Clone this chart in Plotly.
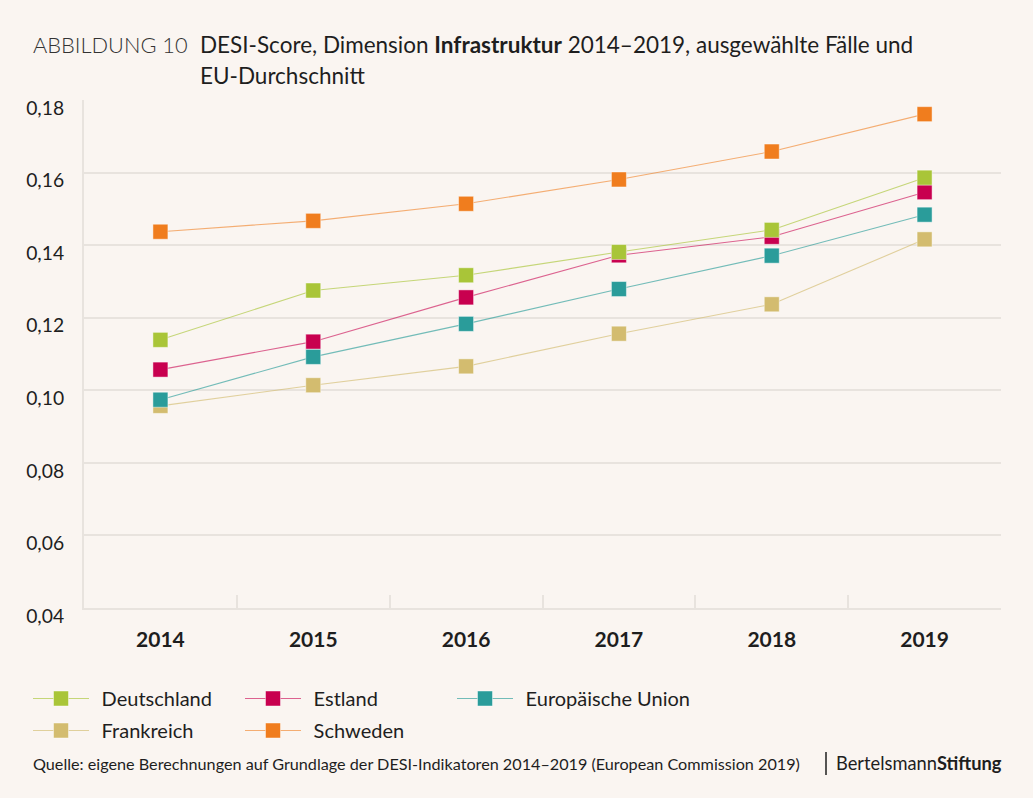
import plotly.graph_objects as go

years = ["2014", "2015", "2016", "2017", "2018", "2019"]
deutschland = [0.1139, 0.1275, 0.1317, 0.1381, 0.1442, 0.1586]
estland = [0.1057, 0.1134, 0.1256, 0.1372, 0.1423, 0.1546]
eu = [0.0974, 0.1092, 0.1183, 0.1279, 0.1371, 0.1484]
frankreich = [0.0957, 0.1014, 0.1066, 0.1156, 0.1237, 0.1416]
schweden = [0.1437, 0.1467, 0.1514, 0.1581, 0.1658, 0.1761]
y_ticks = [0.04, 0.06, 0.08, 0.10, 0.12, 0.14, 0.16, 0.18]

BG = "#faf5f1"
GRID = "#e8e3de"
FONT = "Lato"

W, H = 1033, 798
L, R, T, B = 84, 32, 100, 190
PW, PH = W - L - R, H - T - B


def xp(px):
    return (px - L) / PW


def yp(py):
    return (H - B - py) / PH


series = [
    # name, values, marker colour, line colour, legend id, legend left px, legend top px
    ("Frankreich", frankreich, "#d3bc6f", "rgba(211,188,111,0.65)", "legend4", 28, 711),
    ("Estland", estland, "#c8004f", "rgba(200,0,79,0.6)", "legend2", 240, 679),
    ("Europäische Union", eu, "#2a9c9a", "rgba(42,156,154,0.65)", "legend3", 452, 679),
    ("Deutschland", deutschland, "#a9c538", "rgba(169,197,56,0.65)", "legend", 28, 679),
    ("Schweden", schweden, "#f07d1e", "rgba(240,125,30,0.6)", "legend5", 240, 711),
]

fig = go.Figure()
legends = {}
for name, vals, mc, lc, lg, lx, ly in series:
    fig.add_trace(go.Scatter(
        x=years, y=vals, name="\u00a0\u2009" + name, mode="lines+markers",
        line=dict(color=lc, width=1.1),
        marker=dict(symbol="square", size=15, color=mc,
                    line=dict(color="rgba(255,255,255,0.45)", width=1)),
        legend=lg, cliponaxis=False,
    ))
    legends[lg] = dict(orientation="h", xanchor="left", yanchor="top",
                       x=xp(lx), y=yp(ly),
                       itemsizing="trace", itemwidth=56,
                       font=dict(size=20, family=FONT, color="#1e1e1e"),
                       bgcolor="rgba(0,0,0,0)")

fig.update_layout(
    width=W, height=H,
    margin=dict(l=L, r=R, t=T, b=B),
    paper_bgcolor=BG, plot_bgcolor=BG,
    font=dict(family=FONT, color="#1e1e1e"),
    separators=",.",
    showlegend=True,
    **legends,
)

fig.update_xaxes(
    type="category", range=[-0.5, 5.5],
    showgrid=False, showline=True, linecolor=GRID, linewidth=2,
    ticks="inside", tickson="boundaries", ticklen=13, tickcolor=GRID, tickwidth=1.5,
    tickfont=dict(size=21, family=FONT, color="#1e1e1e", weight="bold"),
    ticklabelstandoff=12, zeroline=False,
)
fig.update_yaxes(
    range=[0.04, 0.18], tickvals=y_ticks, tickformat=".2f",
    showgrid=True, gridcolor=GRID, gridwidth=1.5,
    showline=True, linecolor=GRID, linewidth=2,
    ticks="", zeroline=False,
    tickfont=dict(size=19.3, family=FONT, color="#1e1e1e"),
    ticklabelstandoff=14, ticklabelshift=8,
)

annos = [
    dict(text="ABBILDUNG 10", x=xp(31), y=yp(45), size=21.8, weight=300, color="#333333"),
    dict(text="DESI-Score, Dimension <b>Infrastruktur</b> 2014–2019, ausgewählte Fälle und",
         x=xp(198), y=yp(45), size=22.5, weight=400, color="#1e1e1e"),
    dict(text="EU-Durchschnitt", x=xp(198), y=yp(75), size=22.5, weight=400, color="#1e1e1e"),
    dict(text="Quelle: eigene Berechnungen auf Grundlage der DESI-Indikatoren 2014–2019 (European Commission 2019)",
         x=xp(31), y=yp(763), size=16.2, weight=400, color="#1e1e1e"),
    dict(text="Bertelsmann<b>Stiftung</b>", x=xp(834), y=yp(763), size=18.3, weight=400, color="#1e1e1e"),
]
for a in annos:
    fig.add_annotation(
        text=a["text"], x=a["x"], y=a["y"], xref="paper", yref="paper",
        xanchor="left", yanchor="middle", showarrow=False,
        font=dict(size=a["size"], family=FONT, color=a["color"], weight=a["weight"]),
    )

fig.add_shape(type="line", xref="paper", yref="paper",
              x0=xp(826), x1=xp(826), y0=yp(752), y1=yp(775),
              line=dict(color="#1e1e1e", width=1.5))

fig.write_html("out.html", config={"displayModeBar": False},
               post_script="document.body.style.margin='0';")
